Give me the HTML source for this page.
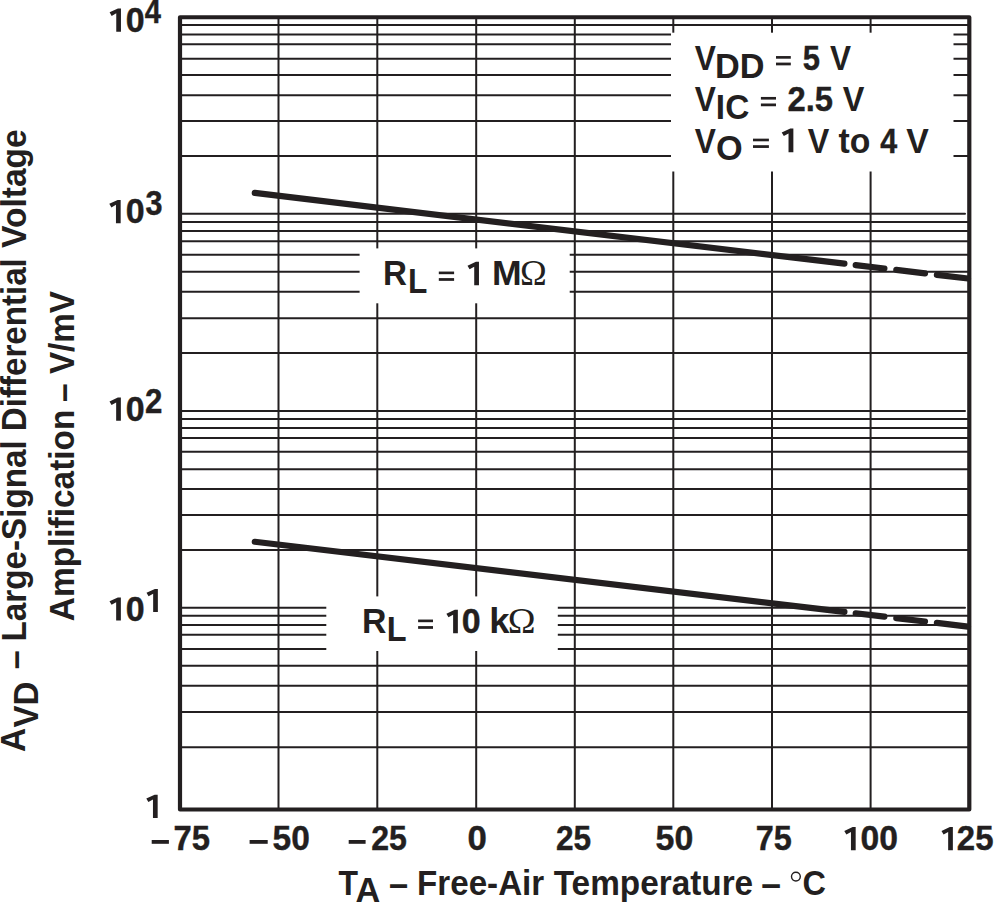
<!DOCTYPE html>
<html><head><meta charset="utf-8"><style>
html,body{margin:0;padding:0;background:#fff;overflow:hidden;}
svg{display:block;}
text{font-kerning:normal;}
.d{stroke:#231f20;stroke-width:0.4px;}
</style></head><body>
<svg width="994" height="903" viewBox="0 0 994 903">
<rect x="0" y="0" width="994" height="903" fill="#fff"/>
<g stroke="#231f20" stroke-width="2.0">
<line x1="180.0" y1="25" x2="969.3" y2="25"/>
<line x1="180.0" y1="34.4" x2="969.3" y2="34.4"/>
<line x1="180.0" y1="44.2" x2="969.3" y2="44.2"/>
<line x1="180.0" y1="58.8" x2="969.3" y2="58.8"/>
<line x1="180.0" y1="75" x2="969.3" y2="75"/>
<line x1="180.0" y1="95.2" x2="969.3" y2="95.2"/>
<line x1="180.0" y1="120.9" x2="969.3" y2="120.9"/>
<line x1="180.0" y1="156" x2="969.3" y2="156"/>
<line x1="180.0" y1="213.8" x2="965.0" y2="213.8" stroke-linecap="round"/>
<line x1="180.0" y1="222.1" x2="969.3" y2="222.1"/>
<line x1="180.0" y1="231.1" x2="969.3" y2="231.1"/>
<line x1="180.0" y1="241.3" x2="969.3" y2="241.3"/>
<line x1="180.0" y1="254.8" x2="969.3" y2="254.8"/>
<line x1="180.0" y1="271.7" x2="969.3" y2="271.7"/>
<line x1="180.0" y1="291.8" x2="969.3" y2="291.8"/>
<line x1="180.0" y1="318.2" x2="969.3" y2="318.2"/>
<line x1="180.0" y1="353" x2="969.3" y2="353"/>
<line x1="180.0" y1="410.9" x2="965.0" y2="410.9" stroke-linecap="round"/>
<line x1="180.0" y1="418.9" x2="969.3" y2="418.9"/>
<line x1="180.0" y1="428" x2="969.3" y2="428"/>
<line x1="180.0" y1="438" x2="969.3" y2="438"/>
<line x1="180.0" y1="451.8" x2="969.3" y2="451.8"/>
<line x1="180.0" y1="469.2" x2="969.3" y2="469.2"/>
<line x1="180.0" y1="489" x2="969.3" y2="489"/>
<line x1="180.0" y1="514.9" x2="969.3" y2="514.9"/>
<line x1="180.0" y1="550.1" x2="969.3" y2="550.1"/>
<line x1="180.0" y1="607.8" x2="965.0" y2="607.8" stroke-linecap="round"/>
<line x1="180.0" y1="615.8" x2="969.3" y2="615.8"/>
<line x1="180.0" y1="624.9" x2="969.3" y2="624.9"/>
<line x1="180.0" y1="634.85" x2="969.3" y2="634.85"/>
<line x1="180.0" y1="649" x2="969.3" y2="649"/>
<line x1="180.0" y1="665.8" x2="969.3" y2="665.8"/>
<line x1="180.0" y1="685.85" x2="969.3" y2="685.85"/>
<line x1="180.0" y1="711.9" x2="969.3" y2="711.9"/>
<line x1="180.0" y1="747.2" x2="969.3" y2="747.2"/>
<line x1="278.5" y1="17.25" x2="278.5" y2="809.5"/>
<line x1="377.3" y1="17.25" x2="377.3" y2="809.5"/>
<line x1="476.2" y1="17.25" x2="476.2" y2="809.5"/>
<line x1="574.8" y1="17.25" x2="574.8" y2="809.5"/>
<line x1="673.3" y1="17.25" x2="673.3" y2="809.5"/>
<line x1="772" y1="17.25" x2="772" y2="809.5"/>
<line x1="870.6" y1="17.25" x2="870.6" y2="809.5"/>
</g>
<g fill="#fff">
<rect x="671" y="32.7" width="282.50" height="138.80"/>
<rect x="359.6" y="248.4" width="210.10" height="54.90"/>
<rect x="326.3" y="596.4" width="231.50" height="54.60"/>
</g>
<rect x="180.0" y="17.25" width="789.30" height="792.25" fill="none" stroke="#231f20" stroke-width="4.2" stroke-linejoin="round"/>
<g stroke="#231f20" stroke-width="6.2" stroke-linecap="round">
<line x1="254.8" y1="192.88" x2="844.4" y2="263.69"/>
<line x1="855.7" y1="265.05" x2="884.4" y2="268.49"/>
<line x1="896.3" y1="269.92" x2="925.0" y2="273.37"/>
<line x1="936.9" y1="274.80" x2="968.0" y2="278.53"/>
<line x1="254.8" y1="541.78" x2="844.4" y2="611.91"/>
<line x1="855.7" y1="613.26" x2="884.4" y2="616.67"/>
<line x1="896.3" y1="618.09" x2="925.0" y2="621.50"/>
<line x1="936.9" y1="622.92" x2="968.0" y2="626.62"/>
</g>
<g fill="#231f20">
<path transform="matrix(23.200 0 0 23.200 109.60 31.70)" d="M0.49 0V-1H0.36L0 -0.833L0.089 -0.682L0.287 -0.79V0Z"/>
<text class="d" transform="matrix(1.0000 0 0 1.0250 125.80 31.70)" font-family="Liberation Sans" font-weight="bold" font-size="34">0</text>
<text class="d" transform="matrix(0.8571 0 0 1.0250 144.87 23.10)" font-family="Liberation Sans" font-weight="bold" font-size="34">4</text>
<path transform="matrix(23.200 0 0 23.200 109.30 223.20)" d="M0.49 0V-1H0.36L0 -0.833L0.089 -0.682L0.287 -0.79V0Z"/>
<text class="d" transform="matrix(1.0000 0 0 1.0250 125.80 223.20)" font-family="Liberation Sans" font-weight="bold" font-size="34">0</text>
<text class="d" transform="matrix(0.8994 0 0 1.0250 145.38 215.20)" font-family="Liberation Sans" font-weight="bold" font-size="34">3</text>
<path transform="matrix(23.200 0 0 23.200 109.50 420.80)" d="M0.49 0V-1H0.36L0 -0.833L0.089 -0.682L0.287 -0.79V0Z"/>
<text class="d" transform="matrix(1.0000 0 0 1.0250 125.80 420.80)" font-family="Liberation Sans" font-weight="bold" font-size="34">0</text>
<text class="d" transform="matrix(0.9202 0 0 1.0250 145.00 412.60)" font-family="Liberation Sans" font-weight="bold" font-size="34">2</text>
<path transform="matrix(23.200 0 0 23.200 109.50 620.60)" d="M0.49 0V-1H0.36L0 -0.833L0.089 -0.682L0.287 -0.79V0Z"/>
<text class="d" transform="matrix(1.0000 0 0 1.0250 125.80 620.60)" font-family="Liberation Sans" font-weight="bold" font-size="34">0</text>
<path transform="matrix(23.200 0 0 23.200 146.50 612.10)" d="M0.49 0V-1H0.36L0 -0.833L0.089 -0.682L0.287 -0.79V0Z"/>
<path transform="matrix(23.200 0 0 23.200 146.30 817.90)" d="M0.49 0V-1H0.36L0 -0.833L0.089 -0.682L0.287 -0.79V0Z"/>
<rect x="151.7" y="840.0" width="17.20" height="3.80"/>
<rect x="249.6" y="840.0" width="18.10" height="3.80"/>
<rect x="348.7" y="840.0" width="16.90" height="3.80"/>
<text class="d" transform="matrix(0.9661 0 0 1.0250 173.45 850.30)" font-family="Liberation Sans" font-weight="bold" font-size="34">75</text>
<text class="d" transform="matrix(0.9858 0 0 1.0250 272.52 850.30)" font-family="Liberation Sans" font-weight="bold" font-size="34">50</text>
<text class="d" transform="matrix(0.9440 0 0 1.0250 371.17 850.30)" font-family="Liberation Sans" font-weight="bold" font-size="34">25</text>
<text class="d" transform="matrix(1.0247 0 0 1.0250 467.47 850.30)" font-family="Liberation Sans" font-weight="bold" font-size="34">0</text>
<text class="d" transform="matrix(0.9300 0 0 1.0250 555.88 850.30)" font-family="Liberation Sans" font-weight="bold" font-size="34">25</text>
<text class="d" transform="matrix(0.9972 0 0 1.0250 655.60 850.30)" font-family="Liberation Sans" font-weight="bold" font-size="34">50</text>
<text class="d" transform="matrix(0.9548 0 0 1.0250 755.67 850.30)" font-family="Liberation Sans" font-weight="bold" font-size="34">75</text>
<path transform="matrix(23.200 0 0 23.200 844.30 850.30)" d="M0.49 0V-1H0.36L0 -0.833L0.089 -0.682L0.287 -0.79V0Z"/>
<text class="d" transform="matrix(0.9915 0 0 1.0250 860.41 850.30)" font-family="Liberation Sans" font-weight="bold" font-size="34">00</text>
<path transform="matrix(23.200 0 0 23.200 941.50 850.30)" d="M0.49 0V-1H0.36L0 -0.833L0.089 -0.682L0.287 -0.79V0Z"/>
<text class="d" transform="matrix(0.9692 0 0 1.0250 956.84 850.30)" font-family="Liberation Sans" font-weight="bold" font-size="34">25</text>
<text transform="matrix(0.9400 0 0 1.0250 338.52 894.60)" font-family="Liberation Sans" font-weight="bold" font-size="34">T</text>
<text transform="matrix(1.0088 0 0 1.0250 355.49 902.40)" font-family="Liberation Sans" font-weight="bold" font-size="34">A</text>
<text transform="matrix(1.0118 0 0 1.1000 388.89 896.05)" font-family="Liberation Sans" font-weight="bold" font-size="34">–</text>
<text transform="matrix(0.9757 0 0 1.0250 417.06 894.60)" font-family="Liberation Sans" font-weight="bold" font-size="34">Free-Air</text>
<text transform="matrix(0.9807 0 0 1.0250 553.71 894.60)" font-family="Liberation Sans" font-weight="bold" font-size="34">Temperature</text>
<text transform="matrix(1.0414 0 0 1.1000 761.36 896.05)" font-family="Liberation Sans" font-weight="bold" font-size="34">–</text>
<circle cx="795.9" cy="876.6" r="4.4" fill="none" stroke="#231f20" stroke-width="1.4"/>
<text transform="matrix(0.9550 0 0 1.0250 802.56 894.60)" font-family="Liberation Sans" font-weight="bold" font-size="34">C</text>
<text transform="matrix(0.9321 0 0 1.0250 694.72 69.90)" font-family="Liberation Sans" font-weight="bold" font-size="34">V</text>
<text transform="matrix(1.0088 0 0 1.0250 714.98 78.10)" font-family="Liberation Sans" font-weight="bold" font-size="34">DD</text>
<rect x="776.0" y="56.050000000000004" width="14.80" height="2.65"/>
<rect x="776.0" y="62.60000000000001" width="14.80" height="2.75"/>
<text class="d" transform="matrix(0.9112 0 0 1.0250 802.70 69.90)" font-family="Liberation Sans" font-weight="bold" font-size="34">5</text>
<text transform="matrix(0.9276 0 0 1.0250 830.02 69.90)" font-family="Liberation Sans" font-weight="bold" font-size="34">V</text>
<text transform="matrix(0.9321 0 0 1.0250 694.72 110.80)" font-family="Liberation Sans" font-weight="bold" font-size="34">V</text>
<text transform="matrix(0.9837 0 0 1.0250 715.84 118.80)" font-family="Liberation Sans" font-weight="bold" font-size="34">IC</text>
<rect x="760.9" y="96.95" width="15.10" height="2.65"/>
<rect x="760.9" y="103.5" width="15.10" height="2.75"/>
<text class="d" transform="matrix(0.9645 0 0 1.0250 787.44 110.80)" font-family="Liberation Sans" font-weight="bold" font-size="34">2.5</text>
<text transform="matrix(0.9548 0 0 1.0250 842.71 110.80)" font-family="Liberation Sans" font-weight="bold" font-size="34">V</text>
<text transform="matrix(0.9321 0 0 1.0250 694.72 152.50)" font-family="Liberation Sans" font-weight="bold" font-size="34">V</text>
<text transform="matrix(1.0085 0 0 1.0250 715.89 160.40)" font-family="Liberation Sans" font-weight="bold" font-size="34">O</text>
<rect x="753.0" y="138.65" width="15.90" height="2.65"/>
<rect x="753.0" y="145.2" width="15.90" height="2.75"/>
<path transform="matrix(23.800 0 0 23.800 781.70 152.30)" d="M0.49 0V-1H0.36L0 -0.833L0.089 -0.682L0.287 -0.79V0Z"/>
<text transform="matrix(0.9502 0 0 1.0250 807.81 152.50)" font-family="Liberation Sans" font-weight="bold" font-size="34">V</text>
<text transform="matrix(0.9934 0 0 1.0250 838.60 152.50)" font-family="Liberation Sans" font-weight="bold" font-size="34">to</text>
<text class="d" transform="matrix(0.8956 0 0 1.0250 880.25 152.50)" font-family="Liberation Sans" font-weight="bold" font-size="34">4</text>
<text transform="matrix(0.9955 0 0 1.0250 906.20 152.50)" font-family="Liberation Sans" font-weight="bold" font-size="34">V</text>
<text transform="matrix(0.9767 0 0 1.0250 383.05 285.40)" font-family="Liberation Sans" font-weight="bold" font-size="34">R</text>
<text transform="matrix(0.9310 0 0 1.0250 408.06 293.00)" font-family="Liberation Sans" font-weight="bold" font-size="34">L</text>
<rect x="438.8" y="271.54999999999995" width="15.30" height="2.65"/>
<rect x="438.8" y="278.09999999999997" width="15.30" height="2.75"/>
<path transform="matrix(23.400 0 0 23.400 467.50 285.20)" d="M0.49 0V-1H0.36L0 -0.833L0.089 -0.682L0.287 -0.79V0Z"/>
<text transform="matrix(1.0464 0 0 1.0250 491.89 285.40)" font-family="Liberation Sans" font-weight="bold" font-size="34">M</text>
<text transform="matrix(1.0599 0 0 1.0350 520.09 285.40)" font-family="Liberation Serif" font-size="34">Ω</text>
<text transform="matrix(0.9953 0 0 1.0250 361.91 633.40)" font-family="Liberation Sans" font-weight="bold" font-size="34">R</text>
<text transform="matrix(0.9540 0 0 1.0250 386.81 641.10)" font-family="Liberation Sans" font-weight="bold" font-size="34">L</text>
<rect x="418.1" y="619.55" width="14.90" height="2.65"/>
<rect x="418.1" y="626.1" width="14.90" height="2.75"/>
<path transform="matrix(23.400 0 0 23.400 446.40 633.20)" d="M0.49 0V-1H0.36L0 -0.833L0.089 -0.682L0.287 -0.79V0Z"/>
<text class="d" transform="matrix(1.0000 0 0 1.0250 461.70 633.40)" font-family="Liberation Sans" font-weight="bold" font-size="34">0</text>
<text transform="matrix(1.0727 0 0 1.0250 489.13 633.40)" font-family="Liberation Sans" font-weight="bold" font-size="34">k</text>
<text transform="matrix(1.1014 0 0 1.0350 507.82 633.40)" font-family="Liberation Serif" font-size="34">Ω</text>
<text transform="matrix(0 -0.9868 1.0350 0 25.40 752.09)" font-family="Liberation Sans" font-weight="bold" font-size="34">A</text>
<text transform="matrix(0 -0.9736 1.0350 0 37.60 727.59)" font-family="Liberation Sans" font-weight="bold" font-size="34">VD</text>
<text transform="matrix(0 -1.0000 1.1000 0 27.00 669.30)" font-family="Liberation Sans" font-weight="bold" font-size="34">–</text>
<text transform="matrix(0 -0.9771 1.0350 0 25.60 641.45)" font-family="Liberation Sans" font-weight="bold" font-size="34">Large-Signal</text>
<text transform="matrix(0 -0.9746 1.0350 0 25.60 431.14)" font-family="Liberation Sans" font-weight="bold" font-size="34">Differential</text>
<text transform="matrix(0 -0.9857 1.0350 0 25.60 247.90)" font-family="Liberation Sans" font-weight="bold" font-size="34">Voltage</text>
<text transform="matrix(0 -0.9826 1.0350 0 73.60 621.18)" font-family="Liberation Sans" font-weight="bold" font-size="34">Amplification</text>
<text transform="matrix(0 -0.9822 1.1000 0 75.20 401.88)" font-family="Liberation Sans" font-weight="bold" font-size="34">–</text>
<text transform="matrix(0 -0.9751 1.0350 0 73.60 373.99)" font-family="Liberation Sans" font-weight="bold" font-size="34">V/mV</text>
</g>
</svg>
</body></html>
